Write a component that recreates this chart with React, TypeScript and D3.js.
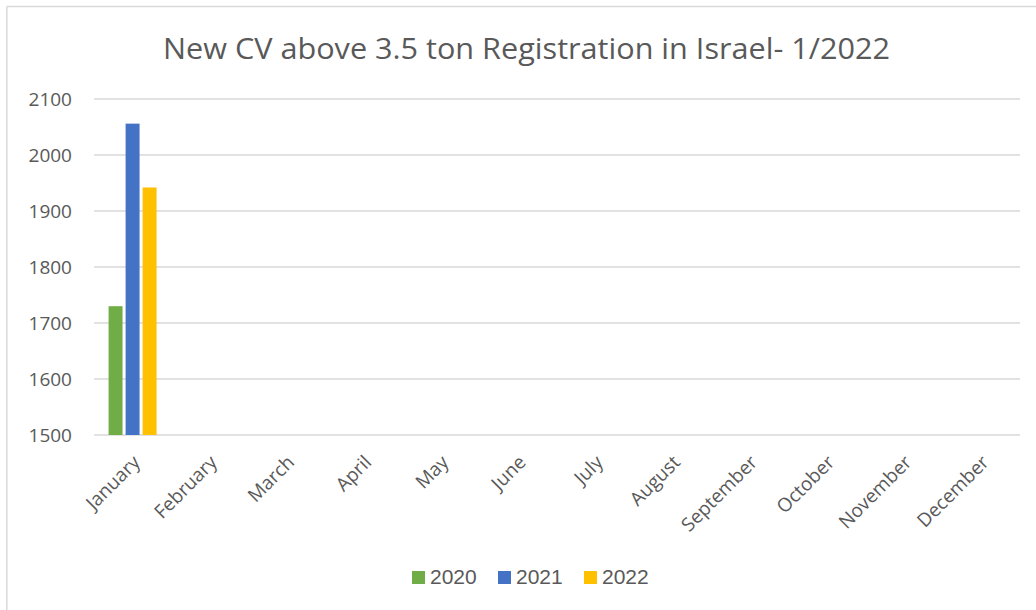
import React from "react";
import * as d3 from "d3";

const months = ["January", "February", "March", "April", "May", "June", "July", "August", "September", "October", "November", "December"];
const seriesNames = ["2020", "2021", "2022"];
const seriesColors = ["#70ad47", "#4472c4", "#ffc000"];
const values2020: (number | null)[] = [1730, null, null, null, null, null, null, null, null, null, null, null];
const values2021: (number | null)[] = [2056, null, null, null, null, null, null, null, null, null, null, null];
const values2022: (number | null)[] = [1942, null, null, null, null, null, null, null, null, null, null, null];
const yTicks = [1500, 1600, 1700, 1800, 1900, 2000, 2100];
const title = "New CV above 3.5 ton Registration in Israel- 1/2022";

const W = 1036;
const H = 610;
const plotLeft = 94;
const plotRight = 1020;
const plotTop = 99;
const plotBottom = 435;
const textColor = "#595959";
const gridColor = "#d9d9d9";
const font = "'Open Sans', sans-serif";

export default function App() {
  const allSeries = [values2020, values2021, values2022];
  const x0 = d3.scaleBand<string>().domain(months).range([plotLeft, plotRight]).paddingInner(0).paddingOuter(0);
  const bw = x0.bandwidth();
  const groupW = 48;
  const x1 = d3
    .scaleBand<string>()
    .domain(seriesNames)
    .range([(bw - groupW) / 2, (bw + groupW) / 2])
    .paddingInner(0.18)
    .paddingOuter(0);
  const y = d3.scaleLinear().domain([1500, 2100]).range([plotBottom, plotTop]);

  const legendX = [412, 498, 584];

  return (
    <svg width={W} height={H} style={{ position: "absolute", left: 0, top: 0, background: "#fff" }}>
      <rect x={0} y={0} width={W} height={H} fill="#fff" />
      {/* chart frame */}
      <line x1={6.8} y1={6.5} x2={W + 5} y2={6.5} stroke={gridColor} strokeWidth={1.5} />
      <line x1={6.8} y1={6.5} x2={6.8} y2={H + 5} stroke={gridColor} strokeWidth={1.5} />

      <text
        x={526.5}
        y={58.5}
        textAnchor="middle"
        fontFamily={font}
        fontSize={30}
        textLength={727}
        lengthAdjust="spacingAndGlyphs"
        fill={textColor}
      >
        {title}
      </text>

      {yTicks.map((t) => (
        <g key={t}>
          <line x1={plotLeft} x2={plotRight} y1={y(t)} y2={y(t)} stroke={gridColor} strokeWidth={1.5} />
          <text x={72} y={y(t)} dy="0.35em" textAnchor="end" fontFamily={font} fontSize={19} fill={textColor}>
            {t}
          </text>
        </g>
      ))}

      {allSeries.map((vals, si) =>
        vals.map((v, mi) =>
          v == null ? null : (
            <rect
              key={`${si}-${mi}`}
              x={(x0(months[mi]) as number) + (x1(seriesNames[si]) as number)}
              y={y(v)}
              width={x1.bandwidth()}
              height={y(1500) - y(v)}
              fill={seriesColors[si]}
            />
          )
        )
      )}

      {months.map((m) => {
        const cx = (x0(m) as number) + bw / 2;
        return (
          <text
            key={m}
            transform={`translate(${cx - 1},${454}) rotate(-45)`}
            textAnchor="end"
            dy="0.71em"
            fontFamily={font}
            fontSize={19}
            fill={textColor}
          >
            {m}
          </text>
        );
      })}

      {seriesNames.map((s, i) => (
        <g key={s}>
          <rect x={legendX[i]} y={571} width={13} height={13} fill={seriesColors[i]} />
          <text x={legendX[i] + 18} y={583.5} fontFamily="'Liberation Sans', Arial, sans-serif" fontSize={21} fill={textColor}>
            {s}
          </text>
        </g>
      ))}
    </svg>
  );
}
